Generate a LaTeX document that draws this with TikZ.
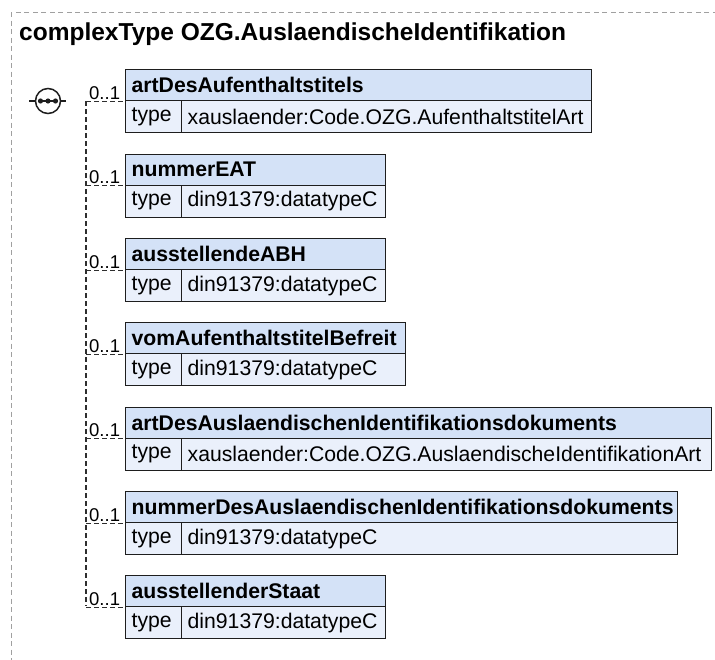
\documentclass[tikz,border=0pt]{standalone}
\usepackage{fontspec}
\setmainfont{Liberation Sans}
\usetikzlibrary{calc}
\definecolor{hdrfill}{HTML}{D4E2F7}
\definecolor{rowfill}{HTML}{EAF0FB}
\definecolor{boxline}{HTML}{1E1E1E}
\definecolor{framegray}{HTML}{A0A0A0}
\definecolor{conngray}{HTML}{2E2E2E}
\tikzset{
  hdr/.style={draw=boxline, fill=hdrfill, line width=1.3pt, inner xsep=6pt, inner ysep=0pt,
    minimum height=31pt, align=left, anchor=north west,
    font=\bfseries\fontsize{21.2}{24}\selectfont},
  tcell/.style={draw=boxline, fill=rowfill, line width=1.3pt, inner xsep=6pt, inner ysep=0pt,
    minimum height=32pt, align=left, anchor=north west,
    font=\fontsize{21.2}{24}\selectfont},
  mult/.style={anchor=base west, inner sep=0pt, font=\fontsize{18.5}{20}\selectfont},
  conn/.style={draw=conngray, line width=1.3pt, dash pattern=on 5pt off 3pt},
  frame/.style={draw=framegray, line width=1pt, dash pattern=on 5pt off 3.5pt}
}
\begin{document}
\begin{tikzpicture}[x=1pt,y=-1pt]
\useasboundingbox (0,0) rectangle (715,659);
\begin{scope}
\clip (0,0) rectangle (715,659);
\path[frame] (11,12) rectangle (760,700);
\end{scope}
\node[anchor=base west, inner sep=0pt, font=\bfseries\fontsize{24.5}{28}\selectfont] (title) at (19,40) {complexType OZG.AuslaendischeIdentifikation};

% compositor
\node[circle, draw=boxline, fill=white, line width=1.5pt, minimum size=25pt, inner sep=0pt] (seq) at (48,101) {};
\draw[boxline, line width=1.5pt] (40,101) -- (56,101);
\foreach \dx in {40.5,48,55.5} \fill[boxline] (\dx,101) circle (2.6);
\draw[boxline, line width=1.3pt] (seq.west) -- ++(-6,0);
\draw[boxline, line width=1.3pt] (seq.east) -- ++(5,0);

% elements
\node[hdr, text width=454pt] (h1) at (125,69) {artDesAufenthaltstitels};
\node[tcell, text width=44pt] (t1) at (125,100) {type};
\node[tcell, text width=398pt] (v1) at (181,100) {xauslaender:Code.OZG.AufenthaltstitelArt};

\node[hdr, text width=248pt] (h2) at (125,153.5) {nummerEAT};
\node[tcell, text width=44pt] (t2) at (125,184.5) {type};
\node[tcell, text width=192pt] (v2) at (181,184.5) {din91379:datatypeC};

\node[hdr, text width=248pt] (h3) at (125,238) {ausstellendeABH};
\node[tcell, text width=44pt] (t3) at (125,269) {type};
\node[tcell, text width=192pt] (v3) at (181,269) {din91379:datatypeC};

\node[hdr, text width=268pt] (h4) at (125,322) {vomAufenthaltstitelBefreit};
\node[tcell, text width=44pt] (t4) at (125,353) {type};
\node[tcell, text width=212pt] (v4) at (181,353) {din91379:datatypeC};

\node[hdr, text width=574pt] (h5) at (125,406.5) {artDesAuslaendischenIdentifikationsdokuments};
\node[tcell, text width=44pt] (t5) at (125,437.5) {type};
\node[tcell, text width=518pt] (v5) at (181,437.5) {xauslaender:Code.OZG.AuslaendischeIdentifikationArt};

\node[hdr, text width=540pt] (h6) at (125,491) {nummerDesAuslaendischenIdentifikationsdokuments};
\node[tcell, text width=44pt] (t6) at (125,522) {type};
\node[tcell, text width=484pt] (v6) at (181,522) {din91379:datatypeC};

\node[hdr, text width=248pt] (h7) at (125,575) {ausstellenderStaat};
\node[tcell, text width=44pt] (t7) at (125,606) {type};
\node[tcell, text width=192pt] (v7) at (181,606) {din91379:datatypeC};

% connectors
\coordinate (bustop) at (86,101);
\coordinate (busbot) at (86,606);
\draw[conn] (bustop) -- (busbot);
\foreach \i in {1,...,7} {
  \draw[conn] (h\i.south west -| bustop) -- (h\i.south west);
  \node[mult] (m\i) at ($(h\i.south west)+(-36,-2)$) {0..1};
}
\end{tikzpicture}
\end{document}
